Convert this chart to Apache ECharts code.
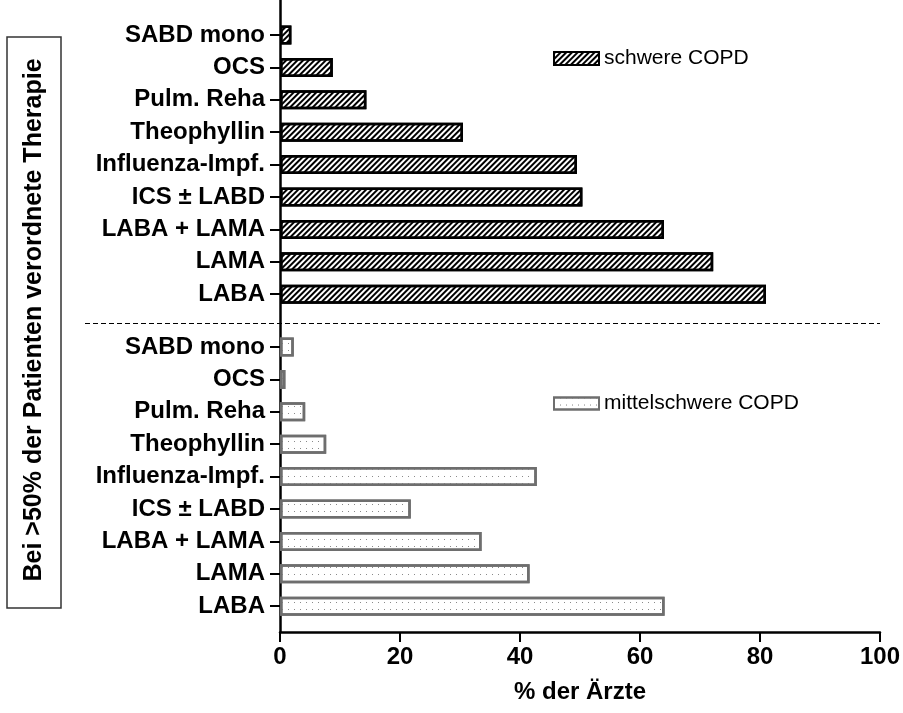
<!DOCTYPE html>
<html>
<head>
<meta charset="utf-8">
<script src="https://cdn.jsdelivr.net/npm/echarts@6/dist/echarts.min.js"></script>
<style>html,body{margin:0;padding:0;background:#fff;}#c{width:903px;height:713px;}</style>
</head>
<body>
<div id="c"></div>
<script>
const categories = ['SABD mono','OCS','Pulm. Reha','Theophyllin','Influenza-Impf.','ICS ± LABD','LABA + LAMA','LAMA','LABA'];
const schwere = [1.9, 8.8, 14.4, 30.5, 49.5, 50.4, 64.0, 72.2, 81.0];
const mittelschwere = [2.3, 0.9, 4.2, 7.7, 42.8, 21.8, 33.6, 41.6, 64.1];
const xTicks = [0, 20, 40, 60, 80, 100];
const seriesNames = ['schwere COPD', 'mittelschwere COPD'];
const xTitle = '% der Ärzte';
const yTitle = 'Bei >50% der Patienten verordnete Therapie';

const FONT = '"Liberation Sans", Arial, sans-serif';
const chart = echarts.init(document.getElementById('c'), null, {renderer: 'canvas'});

const catAxis = (gi) => ({
  type: 'category', gridIndex: gi, data: categories, inverse: true,
  axisLine: {show: false},
  axisTick: {show: true, length: 10, inside: false, alignWithLabel: true, lineStyle: {color: '#000', width: 2}},
  axisLabel: {margin: 15, color: '#000', fontFamily: FONT, fontWeight: 'bold', fontSize: 24},
  splitLine: {show: false}
});
const hiddenX = (gi) => ({
  type: 'value', gridIndex: gi, min: xTicks[0], max: xTicks[xTicks.length-1], show: false
});

chart.setOption({
  animation: false,
  backgroundColor: '#fff',
  grid: [
    {left: 280, width: 600, top: 0, height: 632},
    {left: 280, width: 600, top: 18.8, height: 291.6},
    {left: 280, width: 600, top: 330.8, height: 291.6}
  ],
  xAxis: [
    {
      type: 'value', gridIndex: 0, min: xTicks[0], max: xTicks[xTicks.length-1], interval: 20,
      axisLine: {show: true, lineStyle: {color: '#000', width: 2.5}},
      axisTick: {show: true, length: 10, lineStyle: {color: '#000', width: 2}},
      axisLabel: {margin: 13, color: '#000', fontFamily: FONT, fontWeight: 'bold', fontSize: 24},
      splitLine: {show: false},
      name: xTitle, nameLocation: 'middle', nameGap: 48,
      nameTextStyle: {color: '#000', fontFamily: FONT, fontWeight: 'bold', fontSize: 24}
    },
    hiddenX(1), hiddenX(2)
  ],
  yAxis: [
    {
      type: 'value', gridIndex: 0, min: 0, max: 1,
      axisLine: {show: true, lineStyle: {color: '#000', width: 2.5}},
      axisTick: {show: false}, axisLabel: {show: false}, splitLine: {show: false}
    },
    catAxis(1), catAxis(2)
  ],
  legend: [
    {
      data: [{name: seriesNames[0], icon: 'rect'}], left: 553, top: 48, padding: 0, itemWidth: 45, itemHeight: 13, itemGap: 5,
      textStyle: {color: '#000', fontFamily: FONT, fontSize: 21}
    },
    {
      data: [{name: seriesNames[1], icon: 'rect'}], left: 553, top: 393, padding: 0, itemWidth: 45, itemHeight: 12, itemGap: 5,
      textStyle: {color: '#000', fontFamily: FONT, fontSize: 21}
    }
  ],
  series: [
    {
      name: seriesNames[0], type: 'bar', xAxisIndex: 1, yAxisIndex: 1, data: schwere, barWidth: 19,
      itemStyle: {
        color: '#fff', borderColor: '#000', borderWidth: 2.5,
        decal: {symbol: 'rect', symbolSize: 1, color: '#000', dashArrayX: [1, 0], dashArrayY: [1.6, 2], rotation: -Math.PI / 4}
      }
    },
    {
      name: seriesNames[1], type: 'bar', xAxisIndex: 2, yAxisIndex: 2, data: mittelschwere, barWidth: 19,
      itemStyle: {
        color: '#fff', borderColor: '#6e6e6e', borderWidth: 2.5,
        decal: {symbol: 'rect', symbolSize: 1, color: '#8a8a8a', dashArrayX: [1, 5], dashArrayY: [1, 6]}
      }
    }
  ],
  graphic: [
    {type: 'line', shape: {x1: 85, y1: 323.5, x2: 880, y2: 323.5}, style: {stroke: '#000', lineWidth: 1.2, lineDash: [5, 3]}, silent: true},
    {type: 'rect', shape: {x: 7, y: 37, width: 54, height: 571}, style: {fill: 'none', stroke: '#333', lineWidth: 1.5}, silent: true},
    {type: 'text', x: 34, y: 320, rotation: Math.PI / 2,
     style: {text: yTitle, fill: '#000', font: 'bold 25px ' + FONT, textAlign: 'center', textVerticalAlign: 'middle'}, silent: true}
  ]
});
</script>
</body>
</html>
